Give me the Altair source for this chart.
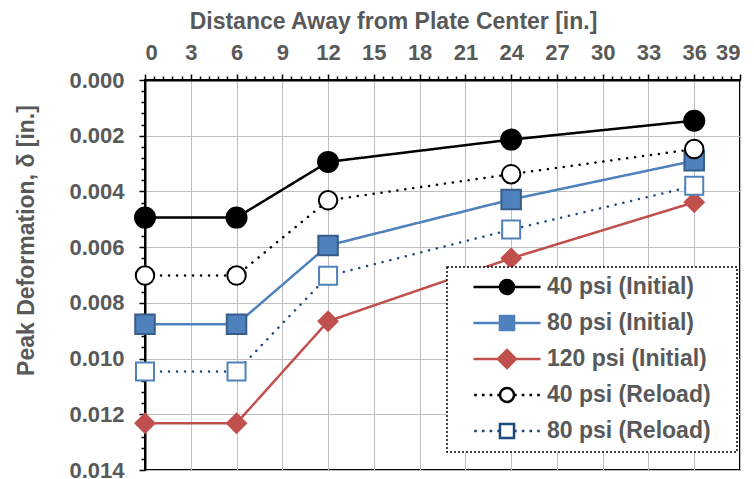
import altair as alt
import pandas as pd

# ---- data ----
x_in = [0, 6, 12, 24, 36]
series_names = ["40 psi (Initial)", "80 psi (Initial)", "120 psi (Initial)",
                "40 psi (Reload)", "80 psi (Reload)"]
d40_init = [0.00494, 0.00494, 0.00294, 0.00214, 0.00146]
d80_init = [0.00877, 0.00877, 0.00594, 0.00429, 0.00290]
d120_init = [0.01232, 0.01232, 0.00866, 0.00640, 0.00439]
d40_rel = [0.00702, 0.00702, 0.00432, 0.00338, 0.00248]
d80_rel = [0.01046, 0.01046, 0.00703, 0.00537, 0.00380]

x_ticks = [round(i * 0.6, 2) for i in range(66)]
y_ticks = [round(i * 0.0004, 4) for i in range(36)]

# ---- styles ----
line_colors = ["#000000", "#4F81BD", "#C0504D", "#000000", "#1F497D"]
marker_fill = ["#000000", "#4F81BD", "#C0504D", "#FFFFFF", "#FFFFFF"]
marker_stroke = ["#000000", "#385D8A", "#C0504D", "#000000", "#4F81BD"]
legend_stroke = ["#000000", "#4F81BD", "#C0504D", "#000000", "#1F497D"]
marker_shape = ["circle", "square", "diamond", "circle", "square"]
marker_size = [400, 324, 420, 330, 270]
line_widths = [2.5, 2.5, 2.5, 4, 4]
dashes = [[1, 0], [1, 0], [1, 0], [0.1, 7.9], [0.1, 7.9]]

rows = []
for name, vals in zip(series_names, [d40_init, d80_init, d120_init, d40_rel, d80_rel]):
    for xv, yv in zip(x_in, vals):
        rows.append({"series": name, "x": xv, "y": yv})
df = pd.DataFrame(rows)

# legend symbol paths (line + marker)
r = 0.21
circ = f"M{r},0A{r},{r} 0 1,1 -{r},0A{r},{r} 0 1,1 {r},0Z"
sq = f"M-{r},-{r}L{r},-{r}L{r},{r}L-{r},{r}Z"
dia = "M0,-0.27L0.27,0L0,0.27L-0.27,0Z"
solid = f"M-1,0L-{r},0M{r},0L1,0"
dots = ""
for p in [-0.98, -0.75, -0.52, -0.29]:
    dots += f"M{p},0L{p + 0.08},0M{-p - 0.08},0L{-p},0"
legend_paths = [solid + circ, solid + sq, solid + dia, dots + circ, dots + sq]

FONT = "Liberation Sans"
GRAY = "#595959"

x_major = "abs(datum.value/3 - round(datum.value/3)) < 0.001"
y_major = "abs(datum.value/0.002 - round(datum.value/0.002)) < 0.001"

x_enc = alt.X("x:Q", scale=alt.Scale(domain=[0, 39], nice=False, zero=False),
              axis=alt.Axis(
                  orient="top", values=x_ticks, title="Distance Away from Plate Center [in.]",
                  labelExpr=f"{x_major} ? format(datum.value, 'd') : ''",
                  tickSize={"condition": {"test": x_major, "value": 6}, "value": 4},
                  gridOpacity={"condition": {"test": x_major, "value": 1}, "value": 0},
                  labelOverlap=False, labelPadding=10, titlePadding=8,
                  titleX=248, titleAlign="center"))
y_enc = alt.Y("y:Q", scale=alt.Scale(domain=[0, 0.014], reverse=True, nice=False, zero=False),
              axis=alt.Axis(
                  values=y_ticks, title="Peak Deformation, δ [in.]",
                  labelExpr=f"{y_major} ? format(datum.value, '.3f') : ''",
                  tickSize={"condition": {"test": y_major, "value": 6}, "value": 4},
                  gridOpacity={"condition": {"test": y_major, "value": 1}, "value": 0},
                  labelOverlap=False, labelPadding=15, titlePadding=30,
                  titleY=160, titleAlign="center"))

base = alt.Chart(df)

lines = base.mark_line(strokeCap="round").encode(
    x=x_enc, y=y_enc,
    stroke=alt.Stroke("series:N", scale=alt.Scale(domain=series_names, range=line_colors), legend=None),
    strokeDash=alt.StrokeDash("series:N", scale=alt.Scale(domain=series_names, range=dashes), legend=None),
    strokeWidth=alt.StrokeWidth("series:N", scale=alt.Scale(domain=series_names, range=line_widths), legend=None),
    order=alt.Order("x:Q"),
)

points = base.mark_point(filled=True, strokeWidth=2, opacity=1).encode(
    x=x_enc, y=y_enc,
    shape=alt.Shape("series:N", scale=alt.Scale(domain=series_names, range=marker_shape), legend=None),
    fill=alt.Fill("series:N", scale=alt.Scale(domain=series_names, range=marker_fill), legend=None),
    stroke=alt.Stroke("series:N", scale=alt.Scale(domain=series_names, range=marker_stroke), legend=None),
    size=alt.Size("series:N", scale=alt.Scale(domain=series_names, range=marker_size), legend=None),
)

# a blank braille cell (not trimmed as whitespace) widens the legend box on the right
leg = alt.Legend(title=None, labelExpr="datum.label + '\u2800'")
legend_layer = base.transform_filter("false").mark_point(filled=True, strokeWidth=2, opacity=1).encode(
    x=x_enc, y=y_enc,
    shape=alt.Shape("series:N", scale=alt.Scale(domain=series_names, range=legend_paths), legend=leg),
    fill=alt.Fill("series:N", scale=alt.Scale(domain=series_names, range=marker_fill), legend=leg),
    stroke=alt.Stroke("series:N", scale=alt.Scale(domain=series_names, range=legend_stroke), legend=leg),
)

chart = alt.layer(lines, points, legend_layer).resolve_scale(
    shape="independent", fill="independent", stroke="independent",
    size="independent", strokeDash="independent", strokeWidth="independent",
).properties(
    width=595, height=390,
    autosize=alt.AutoSizeParams(type="none"),
    padding={"left": 137, "top": 72, "right": 6, "bottom": 12},
).configure_view(
    stroke="black", strokeWidth=2,
).configure_axis(
    labelFont=FONT, labelFontSize=22, labelFontWeight="bold", labelColor=GRAY,
    titleFont=FONT, titleFontSize=23, titleFontWeight="bold", titleColor=GRAY,
    domainColor="black", domainWidth=2, tickColor="black", tickWidth=1.5,
    gridColor="#BFBFBF", gridWidth=1,
).configure_legend(
    orient="none", legendX=302, legendY=187,
    padding=9, rowPadding=13, labelOffset=5, symbolOffset=16,
    labelFont=FONT, labelFontSize=23, labelFontWeight="bold", labelColor=GRAY,
    fillColor="white", strokeColor="black", strokeDash=[2, 2], strokeWidth=1.5,
    symbolSize=4489, symbolStrokeWidth=2.5, clipHeight=22, labelLimit=400,
)

chart.save("out.html", embed_options={"renderer": "svg", "actions": False})
